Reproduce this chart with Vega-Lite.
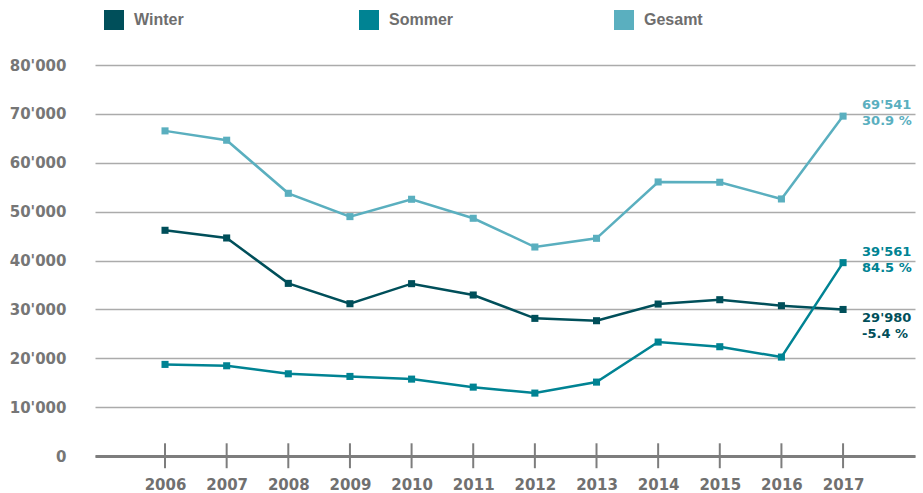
{
  "$schema": "https://vega.github.io/schema/vega-lite/v6.json",
  "width": 820,
  "height": 391,
  "autosize": {"type": "none"},
  "padding": {"left": 95, "top": 65, "right": 8, "bottom": 37},
  "config": {"view": {"stroke": null}, "font": "DejaVu Sans"},
  "datasets": {
    "series": [
      {"series": "Winter", "year": 2006, "value": 46180},
      {"series": "Winter", "year": 2007, "value": 44610},
      {"series": "Winter", "year": 2008, "value": 35320},
      {"series": "Winter", "year": 2009, "value": 31160},
      {"series": "Winter", "year": 2010, "value": 35260},
      {"series": "Winter", "year": 2011, "value": 32940},
      {"series": "Winter", "year": 2012, "value": 28160},
      {"series": "Winter", "year": 2013, "value": 27680},
      {"series": "Winter", "year": 2014, "value": 31090},
      {"series": "Winter", "year": 2015, "value": 31980},
      {"series": "Winter", "year": 2016, "value": 30750},
      {"series": "Winter", "year": 2017, "value": 29980},
      {"series": "Sommer", "year": 2006, "value": 18740},
      {"series": "Sommer", "year": 2007, "value": 18460},
      {"series": "Sommer", "year": 2008, "value": 16820},
      {"series": "Sommer", "year": 2009, "value": 16280},
      {"series": "Sommer", "year": 2010, "value": 15730},
      {"series": "Sommer", "year": 2011, "value": 14090},
      {"series": "Sommer", "year": 2012, "value": 12870},
      {"series": "Sommer", "year": 2013, "value": 15120},
      {"series": "Sommer", "year": 2014, "value": 23310},
      {"series": "Sommer", "year": 2015, "value": 22360},
      {"series": "Sommer", "year": 2016, "value": 20240},
      {"series": "Sommer", "year": 2017, "value": 39561},
      {"series": "Gesamt", "year": 2006, "value": 66520},
      {"series": "Gesamt", "year": 2007, "value": 64610},
      {"series": "Gesamt", "year": 2008, "value": 53750},
      {"series": "Gesamt", "year": 2009, "value": 48980},
      {"series": "Gesamt", "year": 2010, "value": 52530},
      {"series": "Gesamt", "year": 2011, "value": 48640},
      {"series": "Gesamt", "year": 2012, "value": 42760},
      {"series": "Gesamt", "year": 2013, "value": 44540},
      {"series": "Gesamt", "year": 2014, "value": 56070},
      {"series": "Gesamt", "year": 2015, "value": 56010},
      {"series": "Gesamt", "year": 2016, "value": 52590},
      {"series": "Gesamt", "year": 2017, "value": 69541}
    ],
    "years": [
      {"year": 2006}, {"year": 2007}, {"year": 2008}, {"year": 2009},
      {"year": 2010}, {"year": 2011}, {"year": 2012}, {"year": 2013},
      {"year": 2014}, {"year": 2015}, {"year": 2016}, {"year": 2017}
    ],
    "labels": [
      {"series": "Gesamt", "year": 2017, "value": 69541, "txt": "69'541\n30.9 %"},
      {"series": "Sommer", "year": 2017, "value": 39561, "txt": "39'561\n84.5 %"},
      {"series": "Winter", "year": 2017, "value": 29980, "txt": "29'980\n-5.4 %"}
    ]
  },
  "layer": [
    {
      "data": {"name": "years"},
      "mark": {"type": "rule", "color": "#7d7d7d", "strokeWidth": 2},
      "encoding": {
        "x": {"field": "year", "type": "quantitative", "scale": {"domain": [2004.864, 2018.167], "nice": false, "zero": false}},
        "y": {"datum": -2500, "type": "quantitative", "scale": {"domain": [0, 80000]}},
        "y2": {"datum": 2600}
      }
    },
    {
      "data": {"name": "series"},
      "mark": {"type": "line", "strokeWidth": 2.5, "point": {"shape": "square", "size": 50, "filled": true, "opacity": 1}},
      "encoding": {
        "x": {
          "field": "year", "type": "quantitative",
          "scale": {"domain": [2004.864, 2018.167], "nice": false, "zero": false},
          "axis": {
            "title": null, "labelAngle": 0, "ticks": false, "grid": false,
            "values": [2006, 2007, 2008, 2009, 2010, 2011, 2012, 2013, 2014, 2015, 2016, 2017],
            "format": "d", "labelFlush": false, "labelOverlap": false,
            "domainColor": "#7d7d7d", "domainWidth": 3,
            "labelFont": "DejaVu Sans", "labelFontWeight": "bold", "labelFontSize": 15,
            "labelColor": "#707070", "labelPadding": 21
          }
        },
        "y": {
          "field": "value", "type": "quantitative",
          "scale": {"domain": [0, 80000]},
          "axis": {
            "title": null, "domain": false, "ticks": false, "grid": true,
            "values": [0, 10000, 20000, 30000, 40000, 50000, 60000, 70000, 80000],
            "gridColor": "#ababab", "gridWidth": 1.5,
            "labelExpr": "replace(format(datum.value, ','), ',', \"'\")",
            "labelFont": "DejaVu Sans", "labelFontWeight": "bold", "labelFontSize": 15,
            "labelColor": "#767676", "labelPadding": 29
          }
        },
        "color": {
          "field": "series", "type": "nominal",
          "scale": {"domain": ["Winter", "Sommer", "Gesamt"], "range": ["#004f5a", "#008393", "#5aafbf"]},
          "legend": {
            "title": null, "orient": "none", "legendX": 9, "legendY": -55,
            "direction": "horizontal", "columns": 3, "gridAlign": "all", "columnPadding": 160,
            "padding": 0, "symbolType": "square", "symbolSize": 400, "symbolStrokeWidth": 0,
            "labelFont": "Liberation Sans", "labelFontWeight": "bold", "labelFontSize": 16,
            "labelColor": "#6e6e6e", "labelOffset": 10,
            "encode": {"symbols": {"update": {"fill": {"scale": "color", "field": "value"}, "fillOpacity": {"value": 1}}}}
          }
        }
      }
    },
    {
      "data": {"name": "labels"},
      "transform": [{"filter": "datum.series !== 'Winter'"}],
      "mark": {"type": "text", "align": "left", "baseline": "middle", "dx": 19, "dy": -11, "lineBreak": "\n", "lineHeight": 16, "fontSize": 13, "fontWeight": "bold", "font": "DejaVu Sans"},
      "encoding": {
        "x": {"field": "year", "type": "quantitative"},
        "y": {"field": "value", "type": "quantitative"},
        "text": {"field": "txt"},
        "color": {"field": "series", "type": "nominal", "legend": null}
      }
    },
    {
      "data": {"name": "labels"},
      "transform": [{"filter": "datum.series === 'Winter'"}],
      "mark": {"type": "text", "align": "left", "baseline": "middle", "dx": 19, "dy": 9, "lineBreak": "\n", "lineHeight": 16, "fontSize": 13, "fontWeight": "bold", "font": "DejaVu Sans"},
      "encoding": {
        "x": {"field": "year", "type": "quantitative"},
        "y": {"field": "value", "type": "quantitative"},
        "text": {"field": "txt"},
        "color": {"field": "series", "type": "nominal", "legend": null}
      }
    }
  ]
}
